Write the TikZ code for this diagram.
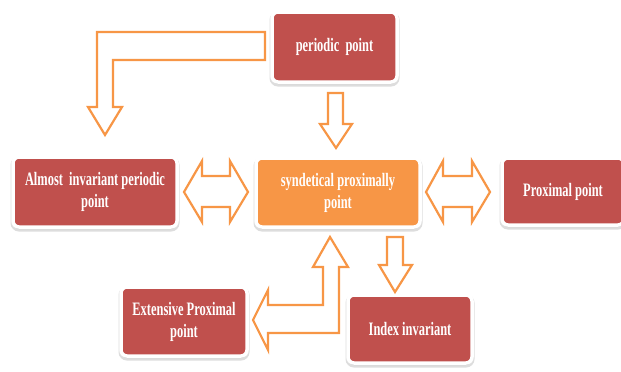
\documentclass[tikz,border=0pt]{standalone}
\usepackage{fontspec}
\newfontfamily\boxfont[FakeStretch=0.655]{Liberation Serif}
\usetikzlibrary{shadows}
\definecolor{boxred}{HTML}{C0504D}
\definecolor{boxorange}{HTML}{F79646}
\tikzset{
  box/.style={draw=white, line width=3.5pt, rounded corners=6pt, fill=boxred,
    text=white, align=center, inner sep=2pt,
    font=\boxfont\bfseries\fontsize{19}{22}\selectfont,
    drop shadow={draw=black!60, line width=5pt, fill=black!60, opacity=0.22,
      shadow xshift=0pt, shadow yshift=-2pt}},
  mainbox/.style={box, fill=boxorange},
  blockarrow/.style={draw=boxorange, line width=2.2pt, fill=white, line join=miter}
}
\begin{document}
\begin{tikzpicture}[x=1pt,y=-1pt]
\useasboundingbox (0,0) rectangle (621,372);
% boxes
\node[box, minimum width=125pt, minimum height=70pt] (pp) at (334.5,47) {periodic\ \ point};
\node[box, minimum width=164pt, minimum height=70pt] (aip) at (95,192) {Almost\ \ invariant periodic\\point};
\node[mainbox, minimum width=164pt, minimum height=69pt] (sp) at (338,192.5) {syndetical proximally\\point};
\node[box, minimum width=122pt, minimum height=67pt] (px) at (563,191.5) {Proximal point};
\node[box, minimum width=126pt, minimum height=69pt] (ep) at (184,321.5) {Extensive Proximal\\point};
\node[box, minimum width=124pt, minimum height=68pt] (ii) at (410,329) {Index invariant};
% block arrows
\draw[blockarrow] (265,32) -- (97,32) -- (97,107) -- (88,107) -- (105,135) -- (122,107)
  -- (113,107) -- (113,60) -- (265,60) -- cycle;
\draw[blockarrow] (328,93) -- (343,93) -- (343,124) -- (352,124) -- (336,148) -- (320,124)
  -- (328,124) -- cycle;
\draw[blockarrow] (184,192) -- (202,161) -- (202,176) -- (230,176) -- (230,161) -- (248,192)
  -- (230,222) -- (230,207) -- (202,207) -- (202,222) -- cycle;
\draw[blockarrow] (426,192) -- (443,161) -- (443,176) -- (472,176) -- (472,161) -- (490,192)
  -- (472,222) -- (472,207) -- (443,207) -- (443,222) -- cycle;
\draw[blockarrow] (387,237) -- (403,237) -- (403,265) -- (412,265) -- (395,292) -- (379,265)
  -- (387,265) -- cycle;
\draw[blockarrow] (330,237) -- (348,267) -- (339,267) -- (339,333) -- (268,333) -- (268,350)
  -- (253,320) -- (268,290) -- (268,305) -- (323,305) -- (323,267) -- (313,267) -- cycle;
\end{tikzpicture}
\end{document}
